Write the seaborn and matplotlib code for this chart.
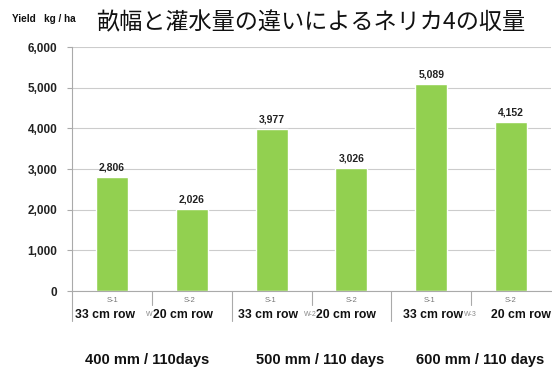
import matplotlib
matplotlib.use("Agg")
import matplotlib.pyplot as plt
import matplotlib.transforms as mtransforms
import seaborn as sns
import pandas as pd

# Yield data (kg/ha) for NERICA 4 by row spacing and irrigation amount
spacing = ["S-1", "S-2", "S-1", "S-2", "S-1", "S-2"]
row_labels = ["33 cm row", "20 cm row", "33 cm row", "20 cm row", "33 cm row", "20 cm row"]
yields = [2806, 2026, 3977, 3026, 5089, 4152]
water_groups = ["400 mm / 110days", "500 mm / 110 days", "600 mm / 110 days"]
water_codes = ["W", "W-2", "W-3"]
y_ticks = [0, 1000, 2000, 3000, 4000, 5000, 6000]

sns.set_theme(style="white")
plt.rcParams["font.family"] = ["Liberation Sans", "DejaVu Sans"]

df = pd.DataFrame({"pos": list(range(len(yields))), "yield": yields})

W, H = 552, 368
fig = plt.figure(figsize=(W / 100, H / 100), dpi=100)
ax_left, ax_right, ax_top, ax_bottom = 72, 551, 47, 291
ax = fig.add_axes([ax_left / W, 1 - ax_bottom / H,
                   (ax_right - ax_left) / W, (ax_bottom - ax_top) / H])

sns.barplot(data=df, x="pos", y="yield", color="#92D050", saturation=1,
            width=0.4, ax=ax, native_scale=True)

ax.set_xlim(-0.5, len(yields) - 0.5)
ax.set_ylim(0, 6000)
ax.set_yticks(y_ticks)
ax.set_yticklabels([f"{v:,}" for v in y_ticks], fontsize=8.5, fontweight="bold", color="#222222")
ax.yaxis.grid(True, color="#cccccc", linewidth=0.8)
ax.set_axisbelow(True)
ax.tick_params(axis="y", length=3.5, width=0.8, color="#aaaaaa", left=True, pad=7)
ax.set_xticks([])
ax.set_xlabel("")
ax.set_ylabel("")
for side in ["top", "right"]:
    ax.spines[side].set_visible(False)
for side in ["left", "bottom"]:
    ax.spines[side].set_color("#aaaaaa")
    ax.spines[side].set_linewidth(0.8)

# value labels above bars
for i, v in enumerate(yields):
    ax.text(i, v + 110, f"{v:,}", ha="center", va="bottom", fontsize=7.5,
            fontweight="bold", color="#222222")

# category labels beneath the axis (positions in figure pixels)
def px_to_data(px):
    return (px - ax_left) / (ax_right - ax_left) * len(yields) - 0.5

trans = mtransforms.blended_transform_factory(ax.transData, fig.transFigure)
s_px = [113, 190, 271, 352, 430, 511]
row_px = [105, 183, 268, 346, 433, 521]
for sx, rx, s, r in zip(s_px, row_px, spacing, row_labels):
    ax.text(px_to_data(sx), 1 - 300 / H, s, ha="center", va="center", fontsize=5.5,
            color="#777777", transform=trans)
    ax.text(px_to_data(rx), 1 - 315 / H, r, ha="center", va="center", fontsize=8.8,
            fontweight="bold", color="#111111", transform=trans)

# separators between categories
for k in range(len(yields)):
    x = k - 0.5
    long_tick = (k % 2 == 0)
    y_end = 1 - (321 / H if long_tick else 305 / H)
    ax.plot([x, x], [1 - ax_bottom / H, y_end], color="#aaaaaa", linewidth=0.8,
            transform=trans, clip_on=False)

# water treatment codes
code_px = [149, 310, 470]
for cx, c in zip(code_px, water_codes):
    ax.text(px_to_data(cx), 1 - 315 / H, c, ha="center", va="center", fontsize=5,
            color="#888888", transform=trans)

# irrigation group labels
group_px = [147, 320, 480]
for gx, g in zip(group_px, water_groups):
    fig.text(gx / W, 1 - 360 / H, g, ha="center", va="center", fontsize=10.5,
             fontweight="bold", color="#111111")

fig.text(12 / W, 1 - 19 / H, "Yield   kg / ha", fontsize=7.2, fontweight="bold",
         ha="left", va="center", color="#111111")
fig.text(311 / W, 1 - 23 / H, "畝幅と灌水量の違いによるネリカ4の収量",
         fontsize=16.7, ha="center", va="center", color="#111111",
         family=["Noto Sans CJK JP", "DejaVu Sans"])

fig.savefig("out.png", dpi=100, facecolor="white")
